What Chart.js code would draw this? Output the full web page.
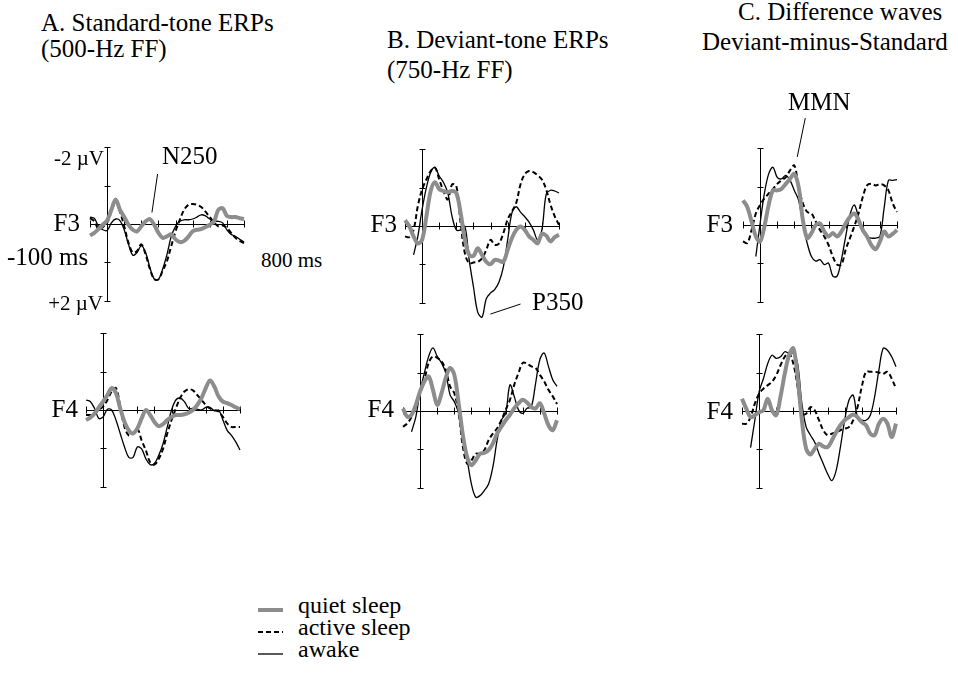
<!DOCTYPE html>
<html>
<head>
<meta charset="utf-8">
<script src="https://cdn.jsdelivr.net/npm/chart.js@4.4.1/dist/chart.umd.min.js"></script>
<style>
  body { margin:0; background:#fff; width:958px; height:684px; position:relative; overflow:hidden;
         font-family:"Liberation Serif","Times New Roman",serif; color:#000; }
  canvas { position:absolute; }
  .t { position:absolute; white-space:nowrap; line-height:1; }
  svg { position:absolute; left:0; top:0; }
</style>
</head>
<body>
<svg id="legendLines" width="958" height="684"></svg>
<script>
// time axis (ms) shared by every waveform
const times = [-100,-75,-50,-25,0,25,50,75,100,125,150,175,200,225,250,275,300,325,350,375,400,
               425,450,475,500,525,550,575,600,625,650,675,700,725,750,775,800];
const timeTicks = [-100,0,100,200,300,400,500,600,700,800];
const voltTicks = [-2,-1,0,1,2];

// values in microvolts (negative plotted upward)
// A. standard tone
const aF3Quiet  = [0.30,0.23,0.13,0.02,-0.09,-0.37,-0.64,-0.37,-0.18,0.02,0.15,0.19,0.06,-0.07,-0.13,0.02,0.23,0.36,0.32,0.27,0.40,0.47,0.44,0.33,0.19,0.15,0.13,0.08,0.02,-0.07,-0.37,-0.41,-0.21,-0.18,-0.18,-0.15,-0.13];
const aF3Active = [-0.15,-0.07,0.13,0.08,-0.03,-0.32,-0.58,-0.32,0.06,0.49,0.74,0.70,0.53,0.79,1.17,1.43,1.44,1.21,0.96,0.57,0.19,-0.11,-0.37,-0.50,-0.52,-0.50,-0.44,-0.32,-0.18,-0.04,0.06,0.04,0.10,0.23,0.36,0.44,0.50];
const aF3Awake  = [-0.18,-0.15,0.06,0.15,0.17,-0.03,-0.13,-0.09,0.15,0.53,0.81,0.74,0.56,0.74,1.13,1.43,1.44,1.17,0.79,0.32,0.06,-0.07,-0.11,-0.11,-0.13,-0.18,-0.24,-0.21,-0.13,-0.07,-0.07,-0.03,0.15,0.27,0.32,0.40,0.47];
const aF4Quiet  = [0.26,0.20,0.09,-0.07,-0.22,-0.39,-0.57,-0.44,-0.04,0.31,0.53,0.61,0.48,0.22,0.00,0.13,0.31,0.42,0.37,0.26,0.18,0.13,0.13,0.11,0.07,0.00,-0.13,-0.31,-0.57,-0.77,-0.61,-0.35,-0.22,-0.18,-0.13,-0.07,-0.02];
const aF4Active = [0.13,0.13,0.10,0.00,-0.09,-0.26,-0.48,-0.57,-0.09,0.44,0.66,0.61,0.48,0.79,1.05,1.36,1.42,1.27,1.01,0.61,0.26,-0.04,-0.31,-0.48,-0.54,-0.51,-0.39,-0.26,-0.13,-0.04,0.00,0.04,0.18,0.35,0.44,0.44,0.44];
const aF4Awake  = [-0.26,-0.22,-0.04,0.22,0.18,-0.02,0.00,0.26,0.61,0.96,1.23,1.23,0.96,1.01,1.27,1.42,1.39,1.18,0.88,0.44,0.00,-0.26,-0.31,-0.22,-0.04,-0.04,-0.02,0.00,-0.07,-0.07,0.02,0.00,0.26,0.53,0.66,0.83,1.04];
// B. deviant tone
const bF3Quiet  = [-0.15,0.00,0.27,0.45,0.36,-0.25,-0.91,-1.14,-0.96,-0.91,-0.88,-0.91,-0.86,-0.34,0.36,0.75,0.78,0.58,0.75,0.93,0.99,0.88,0.90,0.93,0.62,0.31,0.10,0.01,0.10,0.27,0.36,0.45,0.20,0.25,0.40,0.29,0.23];
const bF3Active = [0.27,0.29,0.10,-0.52,-0.95,-1.21,-1.43,-1.52,-1.21,-0.91,-0.69,-1.08,-1.04,-0.08,0.71,0.97,0.95,0.93,0.84,0.62,0.36,0.49,0.45,0.18,-0.17,-0.38,-0.60,-1.08,-1.35,-1.43,-1.40,-1.32,-1.21,-0.95,-0.56,-0.25,-0.03];
const bF3Awake  = [null,null,0.75,0.27,-0.43,-1.00,-1.39,-1.52,-1.30,-1.13,-0.86,-0.25,0.10,0.10,0.01,0.88,1.58,2.24,2.37,1.89,1.74,1.65,1.45,1.06,0.36,-0.34,-0.50,-0.36,-0.24,-0.10,0.10,0.36,0.10,-0.82,-0.93,-0.91,-0.86];
const bF4Quiet  = [-0.07,0.15,0.10,-0.16,-0.51,-0.77,-0.90,-0.55,-0.16,-0.46,-0.86,-1.12,-0.94,-0.20,0.63,1.20,1.41,1.28,1.11,1.09,1.02,0.85,0.59,0.41,0.24,0.10,-0.07,-0.20,-0.29,-0.22,-0.10,-0.07,-0.20,0.06,0.37,0.50,0.24];
const bF4Active = [0.41,0.32,0.15,-0.16,-0.46,-0.81,-1.25,-1.42,-1.38,-1.29,-1.07,-0.64,-0.46,0.06,0.93,1.37,1.28,1.11,1.11,1.02,0.76,0.59,0.45,0.24,-0.03,-0.29,-0.68,-0.99,-1.25,-1.23,-1.16,-1.12,-0.94,-0.77,-0.55,-0.38,-0.18];
const bF4Awake  = [null,null,0.54,0.15,-0.51,-0.99,-1.42,-1.64,-1.42,-1.25,-0.99,-0.42,-0.24,0.06,0.76,1.28,1.90,2.24,2.20,2.07,1.90,1.46,0.76,0.24,0.06,-0.68,-0.38,-0.03,0.06,-0.07,-0.11,-0.72,-1.34,-1.51,-1.16,-0.81,-0.64];
// C. difference waves
const cF3Quiet  = [-0.64,-0.47,-0.09,0.30,0.43,0.04,-0.52,-0.90,-0.90,-0.94,-1.07,-1.20,-1.33,-0.99,-0.13,0.34,0.21,0.00,-0.04,0.17,0.30,0.21,0.30,0.17,-0.04,-0.21,-0.30,-0.13,0.13,0.30,0.52,0.63,0.43,0.17,0.30,0.23,0.13];
const cF3Active = [0.43,0.47,0.13,-0.30,-0.52,-0.69,-0.82,-0.94,-1.07,-1.16,-1.24,-1.42,-1.55,-0.99,-0.56,-0.34,-0.30,-0.09,0.13,0.30,0.52,0.82,1.03,1.03,0.64,0.34,0.04,-0.30,-0.73,-1.03,-1.07,-1.03,-1.06,-1.03,-0.90,-0.56,-0.34];
const cF3Awake  = [null,null,null,0.82,-0.04,-0.82,-1.33,-1.50,-1.24,-1.20,-1.29,-1.16,-0.90,-0.64,-0.04,0.47,0.82,0.94,0.90,1.03,0.99,1.33,1.33,0.90,0.30,-0.26,-0.52,-0.21,0.13,0.30,0.34,0.34,0.30,-0.45,-1.16,-1.16,-1.18];
const cF4Quiet  = [-0.32,-0.06,0.16,0.11,0.03,-0.02,-0.32,-0.02,0.11,-0.37,-0.97,-1.45,-1.63,-0.89,0.24,0.98,1.13,0.98,0.85,0.92,0.94,0.77,0.55,0.37,0.24,0.16,0.09,0.16,0.29,0.37,0.59,0.63,0.33,0.20,0.33,0.68,0.33];
const cF4Active = [0.33,0.33,0.16,-0.19,-0.45,-0.58,-0.67,-0.76,-0.93,-1.19,-1.41,-1.50,-1.23,-0.63,0.07,0.07,-0.10,-0.02,0.24,0.50,0.63,0.59,0.55,0.50,0.46,0.42,0.24,-0.10,-0.63,-1.02,-1.02,-1.02,-1.00,-0.97,-1.02,-0.84,-0.58];
const cF4Awake  = [null,null,0.95,0.24,-0.50,-0.84,-1.23,-1.45,-1.37,-1.41,-1.54,-1.50,-1.50,-1.23,-0.19,0.42,0.63,0.81,1.11,1.37,1.63,1.81,1.55,0.94,0.24,-0.28,-0.41,0.16,0.24,0.24,0.11,-0.37,-1.06,-1.63,-1.58,-1.41,-1.15];

const seriesNames = ['quiet sleep','active sleep','awake'];

// where each little plot sits: pixel of (0 ms, 0 uV)
const panels = [
  { x0:107.5, y0:224, data:[aF3Quiet,aF3Active,aF3Awake], pointer:[295,-1.3,262,-0.3] },
  { x0:103,   y0:410, data:[aF4Quiet,aF4Active,aF4Awake] },
  { x0:422,   y0:226, data:[bF3Quiet,bF3Active,bF3Awake], pointer:[575,2.03,399,2.29] },
  { x0:420,   y0:411, data:[bF4Quiet,bF4Active,bF4Awake] },
  { x0:760,   y0:225, data:[cF3Quiet,cF3Active,cF3Awake], pointer:[264,-2.78,217,-1.77] },
  { x0:759,   y0:411, data:[cF4Quiet,cF4Active,cF4Awake] }
];

const styles = [
  { borderColor:'#8d8d8d', borderWidth:4 },
  { borderColor:'#000', borderWidth:2, borderDash:[5,3] },
  { borderColor:'#000', borderWidth:1.3 }
];

const PADX = 12, PADY = 30, PLOTW = 154, PLOTH = 200;

const erpAxes = {
  id: 'erpAxes',
  beforeDatasetsDraw(chart, args, opts) {
    const {ctx, scales: {x, y}} = chart;
    const px = v => Math.round(x.getPixelForValue(v)) + 0.5;
    const py = v => Math.round(y.getPixelForValue(v)) + 0.5;
    ctx.save();
    ctx.strokeStyle = '#000';
    ctx.lineWidth = 1;
    ctx.beginPath();
    ctx.moveTo(px(timeTicks[0]), py(0));
    ctx.lineTo(px(timeTicks[timeTicks.length - 1]), py(0));
    timeTicks.forEach(t => { ctx.moveTo(px(t), py(0) - 4); ctx.lineTo(px(t), py(0) + 3); });
    ctx.moveTo(px(0), py(voltTicks[0]));
    ctx.lineTo(px(0), py(voltTicks[voltTicks.length - 1]));
    voltTicks.forEach(v => { if (v !== 0) { ctx.moveTo(px(0) - 3, py(v)); ctx.lineTo(px(0) + 3, py(v)); } });
    ctx.stroke();
    ctx.restore();
  },
  afterDatasetsDraw(chart, args, opts) {
    if (!opts.pointer) return;
    const {ctx, scales: {x, y}} = chart;
    const p = opts.pointer;
    ctx.save();
    ctx.strokeStyle = '#000';
    ctx.lineWidth = 1;
    ctx.beginPath();
    ctx.moveTo(x.getPixelForValue(p[0]), y.getPixelForValue(p[1]));
    ctx.lineTo(x.getPixelForValue(p[2]), y.getPixelForValue(p[3]));
    ctx.stroke();
    ctx.restore();
  }
};

panels.forEach(p => {
  const cv = document.createElement('canvas');
  const w = PLOTW + 2 * PADX, h = PLOTH + 2 * PADY;
  cv.width = w; cv.height = h;
  cv.style.width = w + 'px'; cv.style.height = h + 'px';
  cv.style.left = Math.round(p.x0 - PADX - PLOTW * 100 / 900) + 'px';
  cv.style.top = Math.round(p.y0 - PADY - PLOTH / 2) + 'px';
  document.body.appendChild(cv);

  new Chart(cv.getContext('2d'), {
    type: 'line',
    data: {
      datasets: p.data.map((vals, i) => Object.assign({
        label: seriesNames[i],
        data: vals.map((v, k) => ({ x: times[k], y: v })),
        pointRadius: 0,
        tension: 0.35,
        fill: false,
        clip: false
      }, styles[i]))
    },
    options: {
      responsive: false,
      animation: false,
      devicePixelRatio: 1,
      layout: { padding: { left: PADX, right: PADX, top: PADY, bottom: PADY } },
      plugins: { legend: { display: false }, tooltip: { enabled: false }, erpAxes: { pointer: p.pointer } },
      scales: {
        x: { type: 'linear', min: -100, max: 800, display: false },
        y: { type: 'linear', min: -2.6, max: 2.6, reverse: true, display: false }
      }
    },
    plugins: [erpAxes]
  });
});

function addText(str, x, base, size, align) {
  const d = document.createElement('div');
  d.className = 't';
  d.textContent = str;
  d.style.fontSize = size + 'px';
  d.style.top = (base - 0.8375 * size) + 'px';
  if (align === 'right') d.style.right = (958 - x) + 'px';
  else d.style.left = x + 'px';
  document.body.appendChild(d);
}

// titles
addText('A. Standard-tone ERPs', 41, 31, 25);
addText('(500-Hz FF)', 41, 57, 25);
addText('B. Deviant-tone ERPs', 387, 48, 25);
addText('(750-Hz FF)', 387, 78, 25);
addText('C. Difference waves', 738, 20, 25);
addText('Deviant-minus-Standard', 702, 50, 25);

// axis and component labels
addText('-2 \u00b5V', 104, 166, 21, 'right');
addText('+2 \u00b5V', 103, 311, 21, 'right');
addText('-100 ms', 7, 265, 25);
addText('800 ms', 261, 268, 21);
addText('N250', 162, 164, 25);
addText('P350', 532, 310, 25);
addText('MMN', 788, 110, 25);
addText('F3', 80, 231, 25, 'right');
addText('F4', 78, 417, 25, 'right');
addText('F3', 397, 232, 25, 'right');
addText('F4', 394, 417, 25, 'right');
addText('F3', 733, 232, 25, 'right');
addText('F4', 733, 419, 25, 'right');

// legend
const legendRows = [613, 635, 657];
const svg = document.getElementById('legendLines');
legendRows.forEach((base, i) => {
  addText(seriesNames[i], 298, base, 24);
  const ln = document.createElementNS('http://www.w3.org/2000/svg', 'line');
  ln.setAttribute('x1', 258); ln.setAttribute('x2', 283);
  ln.setAttribute('y1', base - 3); ln.setAttribute('y2', base - 3);
  ln.setAttribute('stroke', styles[i].borderColor);
  ln.setAttribute('stroke-width', styles[i].borderWidth);
  if (styles[i].borderDash) ln.setAttribute('stroke-dasharray', '5 3');
  svg.appendChild(ln);
});
</script>
</body>
</html>
